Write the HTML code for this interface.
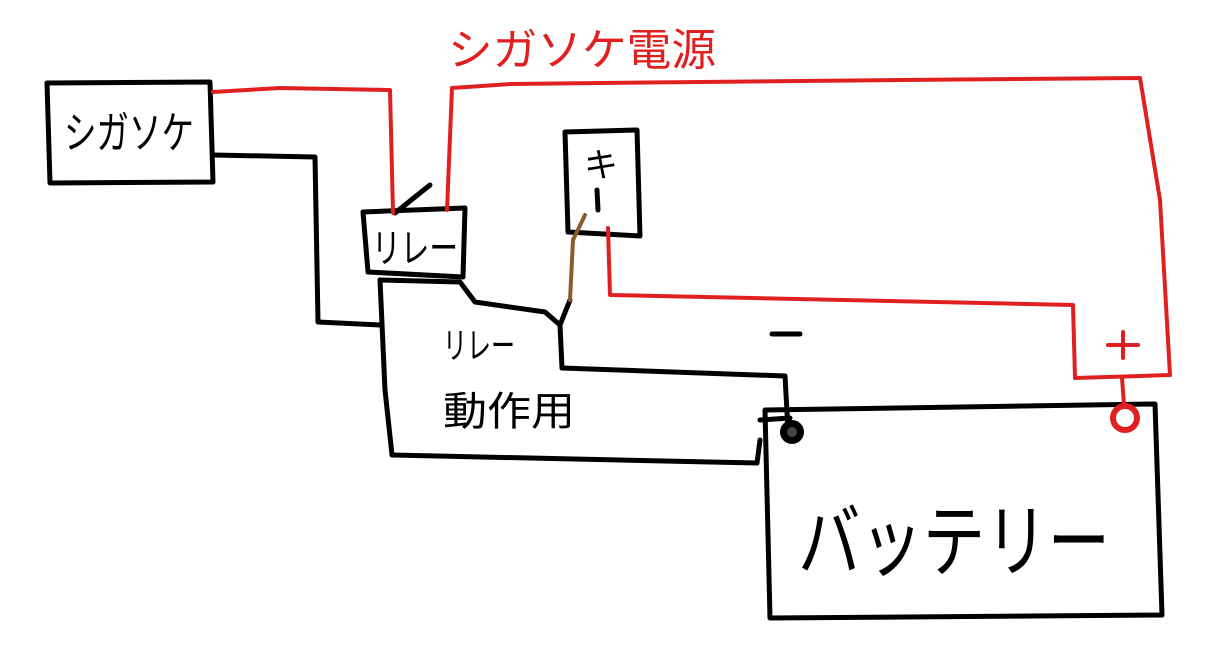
<!DOCTYPE html>
<html><head><meta charset="utf-8"><style>
html,body{margin:0;padding:0;background:#fff;}
svg{display:block;}
text{font-family:"Liberation Sans","Noto Sans CJK JP",sans-serif;}
</style></head><body>
<svg width="1212" height="667" viewBox="0 0 1212 667" xmlns="http://www.w3.org/2000/svg">
<g fill="none" stroke-linecap="round" stroke-linejoin="round">
<g stroke="#000" stroke-width="5">
<polyline points="47,83 210,82 213,182 50,183 47,83"/>
<polyline points="213,155 315,157 318,322 380,325"/>
<polyline points="363,212 465,208 463,277 368,272 363,212"/>
<polyline points="395,213 430,185"/>
<polyline points="380,280 460,282 475,302 545,312 560,325 570,300"/>
<polyline points="380,280 385,390 392,455 757,463 760,440"/>
<polyline points="560,325 562,368 785,376 788,430"/>
<polyline points="565,132 637,130 640,236 568,232 565,132"/>
<polyline points="765,410 1155,404 1162,615 770,618 765,410"/>
<polyline points="760,420 790,418"/>
<polyline points="597,190 598,210"/>
<polyline points="772,334 800,334"/>
</g>
<g stroke="#e02020" stroke-width="4">
<polyline points="213,92 280,88 390,90 393,213"/>
<polyline points="447,210 452,88 510,84 700,82 900,80 1140,78 1160,200 1170,375 1075,378 1073,305 610,295 608,228"/>
<polyline points="1122,378 1124,405"/>
<polyline points="1108,345 1138,345"/>
<polyline points="1123,332 1123,358"/>
</g>
<polyline points="585,215 573,240 570,300" stroke="#8b5a2b" stroke-width="4"/>
<circle cx="1125" cy="418" r="12" stroke="#e02020" stroke-width="6"/>
</g>
<circle cx="792" cy="432" r="12" fill="#000"/>
<circle cx="792" cy="432" r="5" fill="#444"/>
<g fill="#000">
<text x="64" y="148" font-size="44" textLength="130" lengthAdjust="spacingAndGlyphs">シガソケ</text>
<text x="372" y="262" font-size="40" textLength="86" lengthAdjust="spacingAndGlyphs">リレー</text>
<text x="584" y="177" font-size="34">キ</text>
<text x="443" y="358" font-size="36" textLength="72" lengthAdjust="spacingAndGlyphs">リレー</text>
<text x="443" y="425" font-size="40" textLength="132" lengthAdjust="spacingAndGlyphs">動作用</text>
<text x="798" y="570" font-size="80" textLength="312" lengthAdjust="spacingAndGlyphs">バッテリー</text>
</g>
<g fill="#e02020">
<text x="448" y="65" font-size="44" textLength="268" lengthAdjust="spacingAndGlyphs">シガソケ電源</text>
</g>
</svg>
</body></html>
